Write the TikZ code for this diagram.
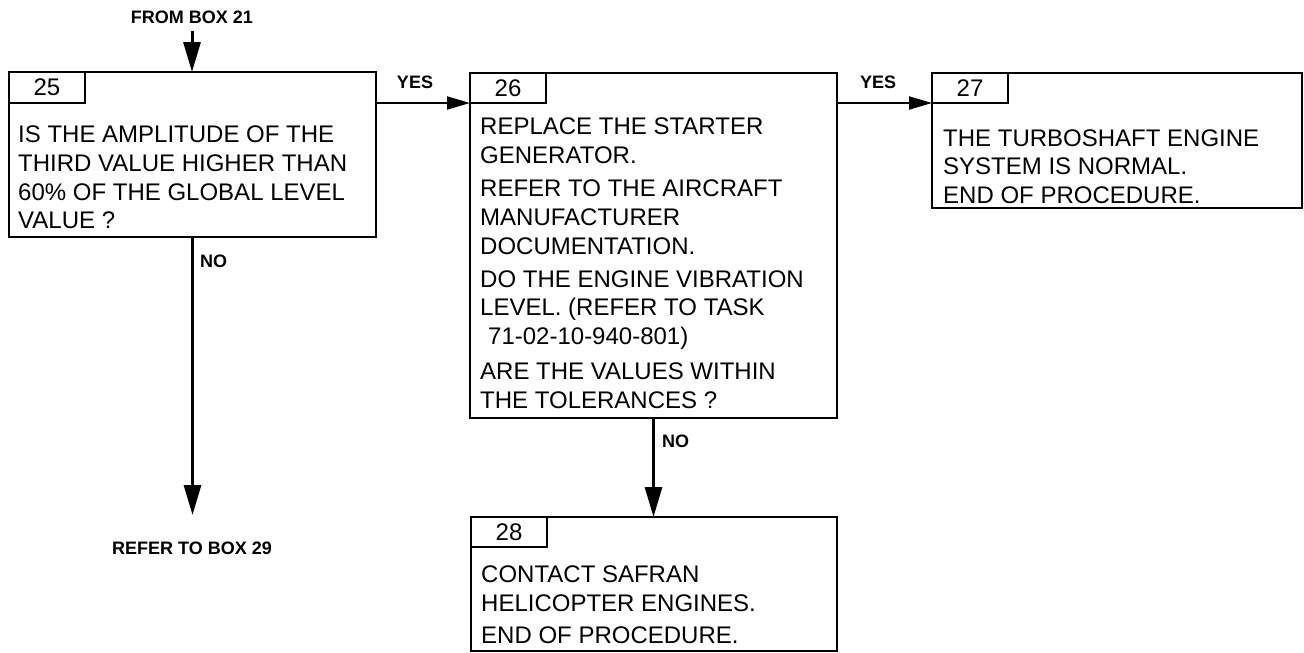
\documentclass[tikz,border=0pt]{standalone}
\usepackage{fontspec}
\setmainfont{Liberation Sans}
\usetikzlibrary{arrows.meta,calc}
\begin{document}
\begin{tikzpicture}[x=1pt,y=-1pt,
  box/.style={draw, line width=2.2pt, rectangle, inner sep=0pt, outer sep=0pt, anchor=north west},
  tab/.style={box, minimum width=76pt, minimum height=31pt, font=\fontsize{24}{29}\selectfont},
  body/.style={inner sep=0pt, anchor=base west, font=\fontsize{24}{29}\selectfont},
  lbl/.style={inner sep=0pt, font=\fontsize{18}{22}\selectfont\bfseries},
  varrow/.style={line width=3pt, -{Triangle[length=30pt,width=17pt]}},
  harrow/.style={line width=2pt, -{Triangle[length=23pt,width=13pt]}}]
\useasboundingbox (0,0) rectangle (1304,653);

% boxes
\node[box, minimum width=367pt, minimum height=165pt] (b25) at (9,72) {};
\node[tab] (t25) at (9,72) {25};
\node[box, minimum width=367pt, minimum height=345pt] (b26) at (470,73) {};
\node[tab, minimum height=30pt] (t26) at (470,73) {26};
\node[box, minimum width=370pt, minimum height=135pt] (b27) at (932,73) {};
\node[tab, minimum height=30pt] (t27) at (932,73) {27};
\node[box, minimum width=366pt, minimum height=134pt] (b28) at (471,517) {};
\node[tab, minimum height=30pt] (t28) at (471,517) {28};

% box 25 text
\node[body] (l25a) at (18,142) {IS THE AMPLITUDE OF THE};
\node[body] (l25b) at (18,171) {THIRD VALUE HIGHER THAN};
\node[body] (l25c) at (18,200) {60\% OF THE GLOBAL LEVEL};
\node[body] (l25d) at (18,228) {VALUE ?};

% box 26 text
\node[body] (l26a) at (480,134) {REPLACE THE STARTER};
\node[body] (l26b) at (480,163) {GENERATOR.};
\node[body] (l26c) at (480,196) {REFER TO THE AIRCRAFT};
\node[body] (l26d) at (480,225) {MANUFACTURER};
\node[body] (l26e) at (480,254) {DOCUMENTATION.};
\node[body] (l26f) at (480,287) {DO THE ENGINE VIBRATION};
\node[body] (l26g) at (480,315) {LEVEL. (REFER TO TASK};
\node[body] (l26h) at (488,344) {71-02-10-940-801)};
\node[body] (l26i) at (480,379) {ARE THE VALUES WITHIN};
\node[body] (l26j) at (480,408) {THE TOLERANCES ?};

% box 27 text
\node[body] (l27a) at (943,146) {THE TURBOSHAFT ENGINE};
\node[body] (l27b) at (943,174) {SYSTEM IS NORMAL.};
\node[body] (l27c) at (943,203) {END OF PROCEDURE.};

% box 28 text
\node[body] (l28a) at (481,582) {CONTACT SAFRAN};
\node[body] (l28b) at (481,611) {HELICOPTER ENGINES.};
\node[body] (l28c) at (481,643) {END OF PROCEDURE.};

% labels
\node[lbl] (from21) at (192,17) {FROM BOX 21};
\node[lbl] (yes1) at (415,82) {YES};
\node[lbl] (yes2) at (878,82) {YES};
\node[lbl, anchor=west] (no1) at (200,261) {NO};
\node[lbl, anchor=west] (no2) at (662,441) {NO};
\node[lbl] (ref29) at (192,548) {REFER TO BOX 29};

% connectors
\coordinate (fromstart) at (192,31);
\coordinate (refend) at (192,515);
\draw[varrow] (fromstart) -- (fromstart |- b25.north);
\draw[harrow] (b25.east |- t26.south west) -- (t26.south west);
\draw[harrow] (b26.east |- t27.south west) -- (t27.south west);
\draw[varrow] (b25.south) -- (b25.south |- refend);
\draw[varrow] (b26.south) -- (b26.south |- b28.north);
\end{tikzpicture}
\end{document}
